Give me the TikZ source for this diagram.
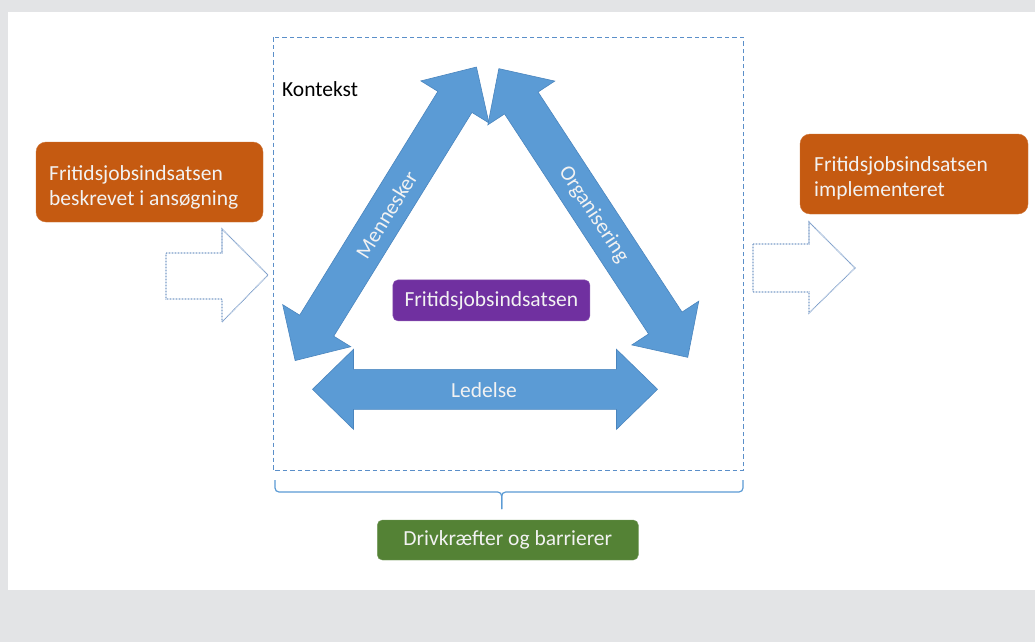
\documentclass[tikz,border=0pt]{standalone}
\usepackage{fontspec}
\setmainfont{Carlito}
\definecolor{bggray}{HTML}{E3E4E6}
\definecolor{orangebox}{HTML}{C55A11}
\definecolor{purplebox}{HTML}{7030A0}
\definecolor{greenbox}{HTML}{548235}
\definecolor{arrowblue}{HTML}{5B9BD5}
\definecolor{arrowedge}{HTML}{4A85BE}
\definecolor{dashblue}{HTML}{5B8FC9}
\definecolor{dotblue}{HTML}{7C9DC9}
\tikzset{
  txt/.style={font=\fontsize{21.5}{25}\selectfont},
  orangenode/.style={fill=orangebox, draw=orangebox!85!white, rounded corners=10pt, inner sep=0pt},
  boxtext/.style={txt, text=white!95!black, align=left, inner sep=0pt, anchor=west},
  smallbox/.style={txt, rounded corners=5pt, text=white!95!black, inner sep=0pt},
  bigarrow/.style={fill=arrowblue, draw=arrowedge, line width=0.6pt},
  hollowarrow/.style={draw=dotblue, dash pattern=on 0.8pt off 0.7pt, line width=1.1pt},
  arrowtext/.style={txt, text=white!95!black},
}
\newcommand{\dblarrow}{%
  (-172.5,0) -- (-131.5,40) -- (-131.5,20) -- (131.5,20) -- (131.5,40) -- (172.5,0)
  -- (131.5,-40) -- (131.5,-20) -- (-131.5,-20) -- (-131.5,-40) -- cycle}
\begin{document}
\begin{tikzpicture}[x=1pt,y=-1pt]
  % background
  \fill[bggray] (0,0) rectangle (1035,642);
  \fill[white] (8,12) rectangle (1035,590);
  \useasboundingbox (0,0) rectangle (1035,642);

  % context box
  \draw[dashblue, dash pattern=on 4.5pt off 3pt, line width=1pt] (273,37.5) rectangle (743,470.5);
  \node[txt, anchor=west, inner sep=0pt] (kontekst) at (282,89) {Kontekst};

  % hollow arrows
  \draw[hollowarrow] (166,253) -- (222,253) -- (222,229) -- (268,275) -- (222,322) -- (222,299) -- (166,299) -- cycle;
  \draw[hollowarrow] (753,244) -- (809,244) -- (809,222) -- (855,268) -- (809,313) -- (809,292) -- (753,292) -- cycle;

  % orange boxes
  \node[orangenode, minimum width=227pt, minimum height=80pt] (input) at (149.5,182) {};
  \node[boxtext] (inputtext) at (49,187) {Fritidsjobsindsatsen\\beskrevet i ansøgning};
  \node[orangenode, minimum width=228pt, minimum height=80pt] (output) at (914,174) {};
  \node[boxtext] (outputtext) at (814,178) {Fritidsjobsindsatsen\\implementeret};

  % three double arrows
  \begin{scope}[shift={(485,389.3)}]
    \draw[bigarrow] \dblarrow;
  \end{scope}
  \begin{scope}[shift={(385.8,213.8)}, rotate=58.3]
    \draw[bigarrow] \dblarrow;
  \end{scope}
  \begin{scope}[shift={(593.3,213)}, rotate=-56.8]
    \draw[bigarrow] \dblarrow;
  \end{scope}
  \node[arrowtext] (ledelse) at (484,390) {Ledelse};
  \node[arrowtext, rotate=58.3] (mennesker) at (386.5,214.5) {Mennesker};
  \node[arrowtext, rotate=-56.8] (organisering) at (593.5,214.5) {Organisering};

  % center box
  \node[smallbox, fill=purplebox, draw=purplebox!80!white, minimum width=197pt, minimum height=41pt] (center) at (491.4,300.4) {Fritidsjobsindsatsen};

  % brace
  \coordinate (braceL) at (275,480);
  \coordinate (braceR) at (743,480);
  \coordinate (braceTip) at (501.7,509);
  \draw[arrowblue, line width=1.2pt, rounded corners=4pt] (braceL) |- (braceTip |- 0,492) -- (braceTip);
  \draw[arrowblue, line width=1.2pt, rounded corners=4pt] (braceR) |- (braceTip |- 0,492) -- (braceTip);

  % green box
  \node[smallbox, fill=greenbox, draw=greenbox!80!white, minimum width=261pt, minimum height=40pt] (drivers) at (507.8,540) {Drivkræfter og barrierer};
\end{tikzpicture}
\end{document}
